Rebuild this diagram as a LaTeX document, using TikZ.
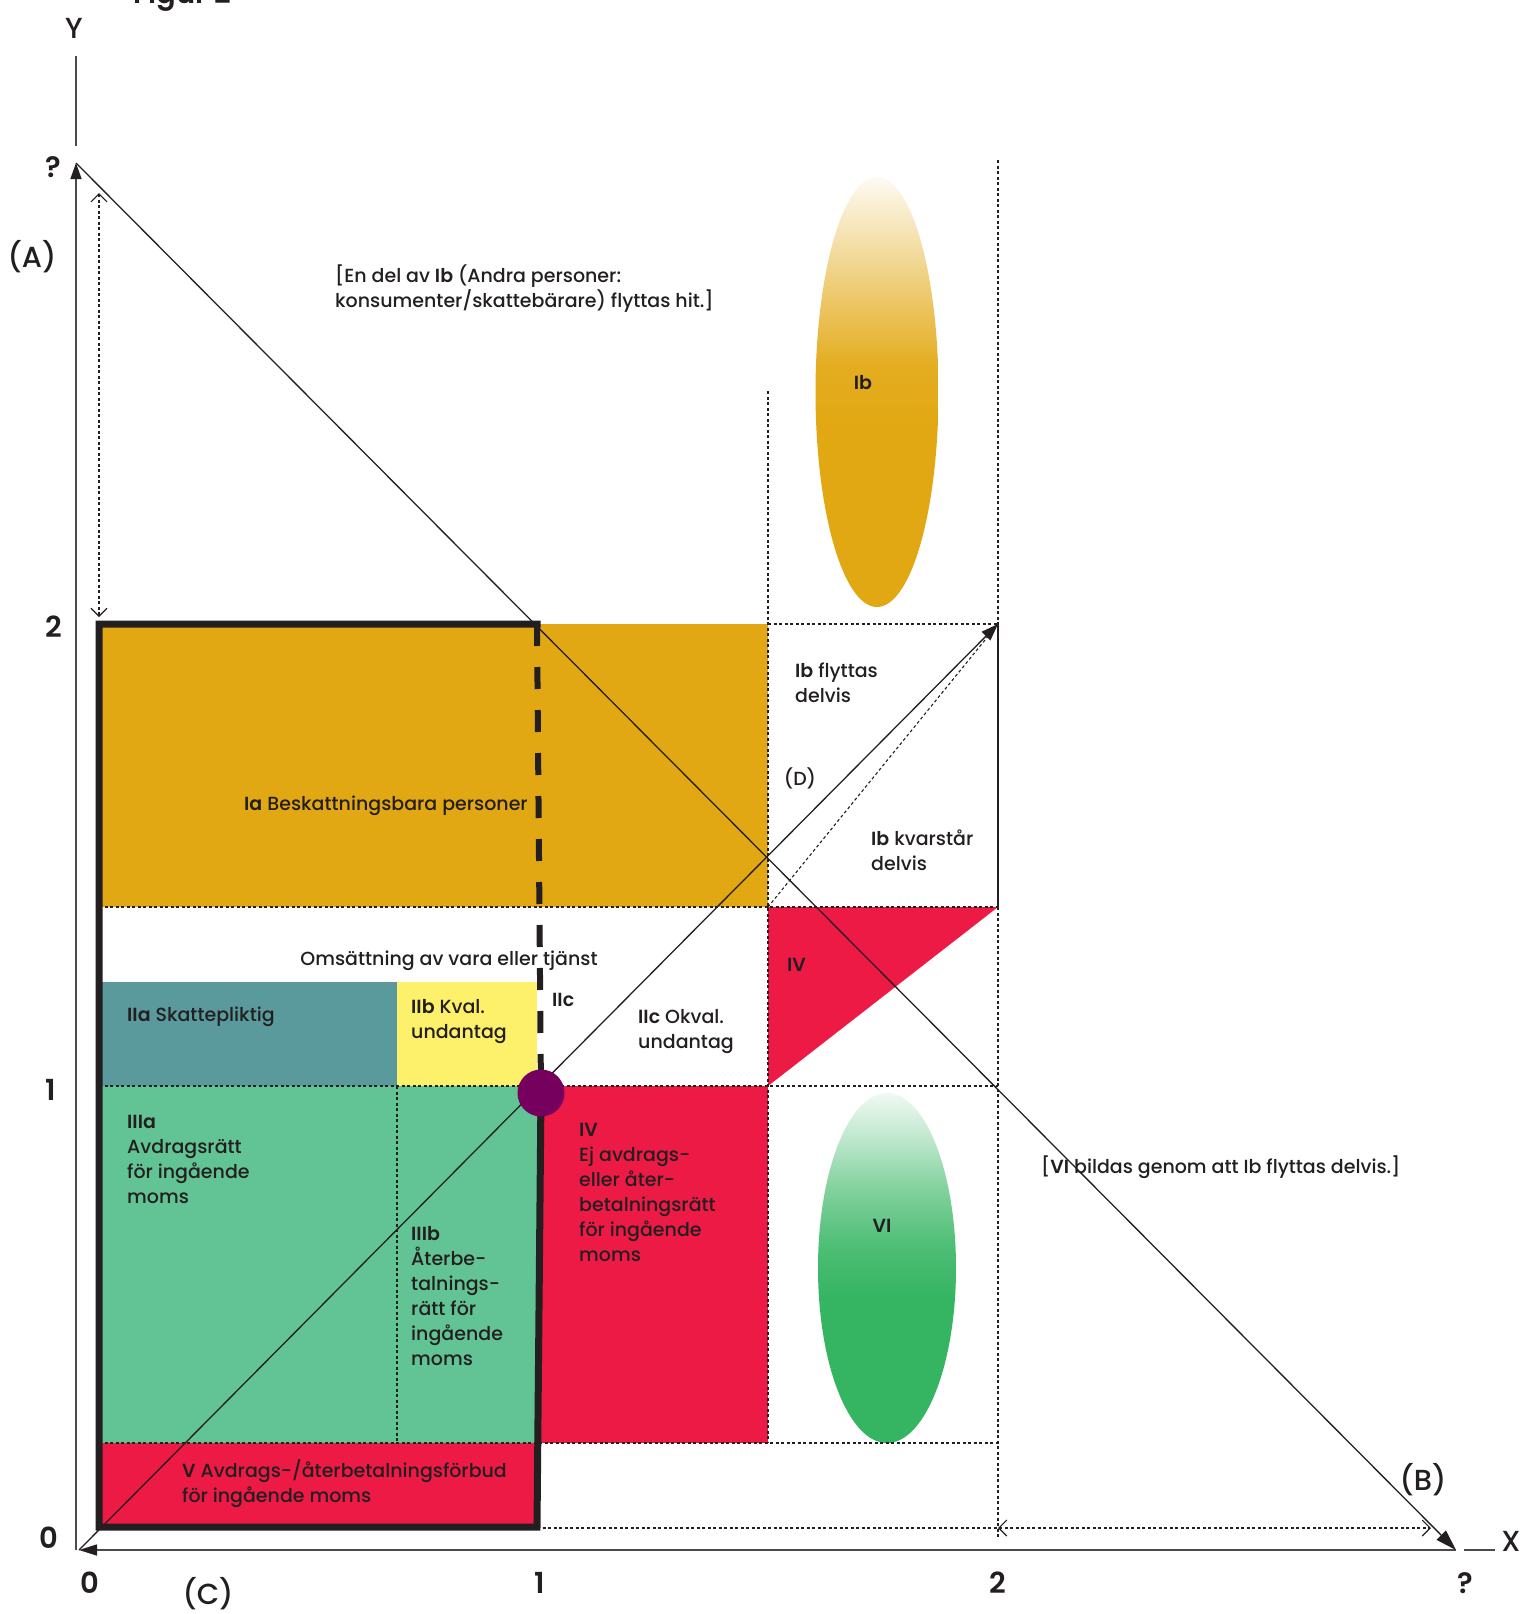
\documentclass[tikz,border=0pt]{standalone}
\usepackage{fontspec}
\setmainfont{Poppins}[UprightFont=* Medium, BoldFont=* SemiBold]
\usepackage{xcolor}
\usetikzlibrary{arrows.meta, positioning, calc, shapes.geometric}

\definecolor{ink}{RGB}{35,31,32}
\definecolor{axgray}{RGB}{75,75,75}
\definecolor{iagold}{RGB}{226,168,19}
\definecolor{iiteal}{RGB}{90,154,156}
\definecolor{iiyellow}{RGB}{253,240,107}
\definecolor{iiigreen}{RGB}{98,195,148}
\definecolor{redfill}{RGB}{238,26,70}
\definecolor{dotpurple}{RGB}{117,0,94}
\definecolor{vigreen}{RGB}{53,181,98}

\pgfdeclareverticalshading{ibfade}{100bp}{color(0bp)=(iagold); color(46bp)=(iagold);
  color(53bp)=(iagold!94); color(62bp)=(iagold!58); color(69bp)=(iagold!28); color(75bp)=(iagold!3); color(100bp)=(iagold!3)}
\pgfdeclareverticalshading{vifade}{100bp}{color(0bp)=(vigreen); color(46bp)=(vigreen);
  color(53bp)=(vigreen!88); color(61bp)=(vigreen!62); color(68bp)=(vigreen!32); color(75bp)=(vigreen!5); color(100bp)=(vigreen!5)}

\tikzset{
  txt/.style={anchor=base west, inner sep=0pt, align=left, text=ink, font=\fontsize{19}{25}\selectfont},
  axtxt/.style={inner sep=0pt, text=ink, font=\fontsize{29}{32}\selectfont},
  axnum/.style={axtxt, font=\fontsize{29}{32}\selectfont\bfseries},
  hair/.style={line width=1.1pt, dash pattern=on 3pt off 2.5pt, ink},
  diag/.style={line width=1.3pt, ink},
  axis/.style={line width=1.6pt, axgray},
  barbs/.style={{Straight Barb[length=8pt,width=16pt]}-{Straight Barb[length=8pt,width=16pt]}},
}

\begin{document}
\begin{tikzpicture}[x=1pt, y=-1pt]
  \useasboundingbox (0,0) rectangle (1526,1614);
  % Key points
  \coordinate (O) at (79,1550);
  \coordinate (Yb) at (76,1550);
  \coordinate (Ytip) at (76,163);
  \coordinate (Xtip) at (1456,1550);
  \coordinate (Dtip) at (998,624);
  \coordinate (P) at (541,1093);

  % Coloured regions
  \fill[iagold] (99,624) rectangle (768,907);
  \fill[iiteal] (99,982) rectangle (397,1086);
  \fill[iiyellow] (397,982) rectangle (537,1086);
  \fill[iiigreen] (99,1086) rectangle (537,1443);
  \fill[redfill] (537,1086) rectangle (768,1443);
  \fill[redfill] (99,1443) rectangle (537,1527);
  \fill[redfill] (768,907) -- (998,907) -- (768,1086) -- cycle;

  % Fading ellipses Ib and VI
  \begin{scope}
    \clip (877,392) ellipse [x radius=61.5, y radius=215];
    \shade[shading=ibfade] (810,172) rectangle (944,612);
  \end{scope}
  \begin{scope}
    \clip (887,1268) ellipse [x radius=69, y radius=175];
    \shade[shading=vifade] (812,1088) rectangle (962,1448);
  \end{scope}

  % Dashed guide lines
  \foreach \a/\b in {{99,907}/{998,907}, {99,1086}/{998,1086}, {99,1443}/{998,1443},
                     {768,624}/{998,624}, {537,1528}/{998,1528}, {397,1086}/{397,1443},
                     {768,391}/{768,1443}, {998,160}/{998,624}, {998,907}/{998,1537}}
    \draw[hair] (\a) -- (\b);
  \draw[diag, line width=1.1pt] (998,624) -- (998,907);
  \draw[hair] (768,907) -- (Dtip);
  % Span arrows
  \draw[hair, barbs] (99,193) -- (99,617);
  \draw[hair, barbs] (998,1528) -- (1431,1528);

  % Axes
  \draw[axis] (76,56) -- (76,146);
  \draw[axis] (1464,1550) -- (1495,1550);
  \draw[axis, -{Triangle[length=16pt,width=11pt,color=ink]}] (Yb) -- (Ytip);
  \draw[axis, -{Triangle[length=18pt,width=11pt,color=ink]}] (Xtip) -- (O);
  % Diagonals (B) and (D)
  \draw[diag, -{Triangle[length=21pt,width=13pt]}] (Ytip) -- (Xtip);
  \draw[diag, -{Triangle[length=17pt,width=12pt]}] (O) -- (Dtip);

  % Thick frame
  \draw[line width=6pt, ink, dash pattern=on 22pt off 21pt] (537,624) -- (P);
  \draw[line width=7pt, ink, line cap=rect] (P) -- (537,1527) -- (99,1527) -- (99,624) -- (537,624);
  \fill[dotpurple] (P) circle [radius=23.5];

  % Region labels (anchored at the baseline of the last line)
  \node[txt, anchor=base east] (ialbl) at (528,810) {\textbf{Ia} Beskattningsbara personer};
  \node[txt, anchor=base] (omslbl) at (449,965) {Omsättning av vara eller tjänst};
  \node[txt] (iialbl) at (127,1021) {\textbf{IIa} Skattepliktig};
  \node[txt] (iiblbl) at (411,1038) {\textbf{IIb} Kval.\\undantag};
  \node[txt] (iiclbl) at (552,1006) {\textbf{IIc}};
  \node[txt] (iicolbl) at (638,1048) {\textbf{IIc} Okval.\\undantag};
  \node[txt] (ivtri) at (787,971) {\textbf{IV}};
  \node[txt] (ibflyt) at (795,702) {\textbf{Ib} flyttas\\delvis};
  \node[txt] (ibkvar) at (871,870) {\textbf{Ib} kvarstår\\delvis};
  \node[txt, anchor=center] (dlbl) at (800,778) {(D)};
  \node[txt] (iiialbl) at (127,1203) {\textbf{IIIa}\\Avdragsrätt\\för ingående\\moms};
  \node[txt] (iiiblbl) at (411,1365) {\textbf{IIIb}\\Återbe-\\talnings-\\rätt för\\ingående\\moms};
  \node[txt] (ivlbl) at (579,1261) {\textbf{IV}\\Ej avdrags-\\eller åter-\\betalningsrätt\\för ingående\\moms};
  \node[txt] (vlbl) at (182,1502) {\textbf{V} Avdrags-/återbetalningsförbud\\för ingående moms};
  \node[txt] (movedlbl) at (335,307) {[En del av \textbf{Ib} (Andra personer:\\konsumenter/skattebärare) flyttas hit.]};
  \node[txt] (vinote) at (1041,1173) {[\textbf{VI} bildas genom att Ib flyttas delvis.]};
  \node[txt, anchor=center] (iblbl) at (863,383) {\textbf{Ib}};
  \node[txt, anchor=center] (vilbl) at (882,1226) {\textbf{VI}};

  % Axis labels
  \node[axnum, anchor=base west] (figttl) at (133,3) {Figur 2};
  \node[axtxt] (ylbl) at (74,28) {Y};
  \node[axtxt] (xlbl) at (1511,1541) {X};
  \node[axtxt] (albl) at (32,257) {(A)};
  \node[axtxt] (blbl) at (1423,1480) {(B)};
  \node[axtxt] (clbl) at (208,1594) {(C)};
  \node[axnum] (yq) at (53,167) {?};
  \foreach \v/\xx/\yy [count=\i] in {2/54/627, 1/51/1090, 0/49/1538}
    \node[axnum] (ytick\i) at (\xx,\yy) {\v};
  \foreach \v/\xx [count=\i] in {0/90, 1/540, 2/998, ?/1465}
    \node[axnum] (xtick\i) at (\xx,1583) {\v};
\end{tikzpicture}
\end{document}
